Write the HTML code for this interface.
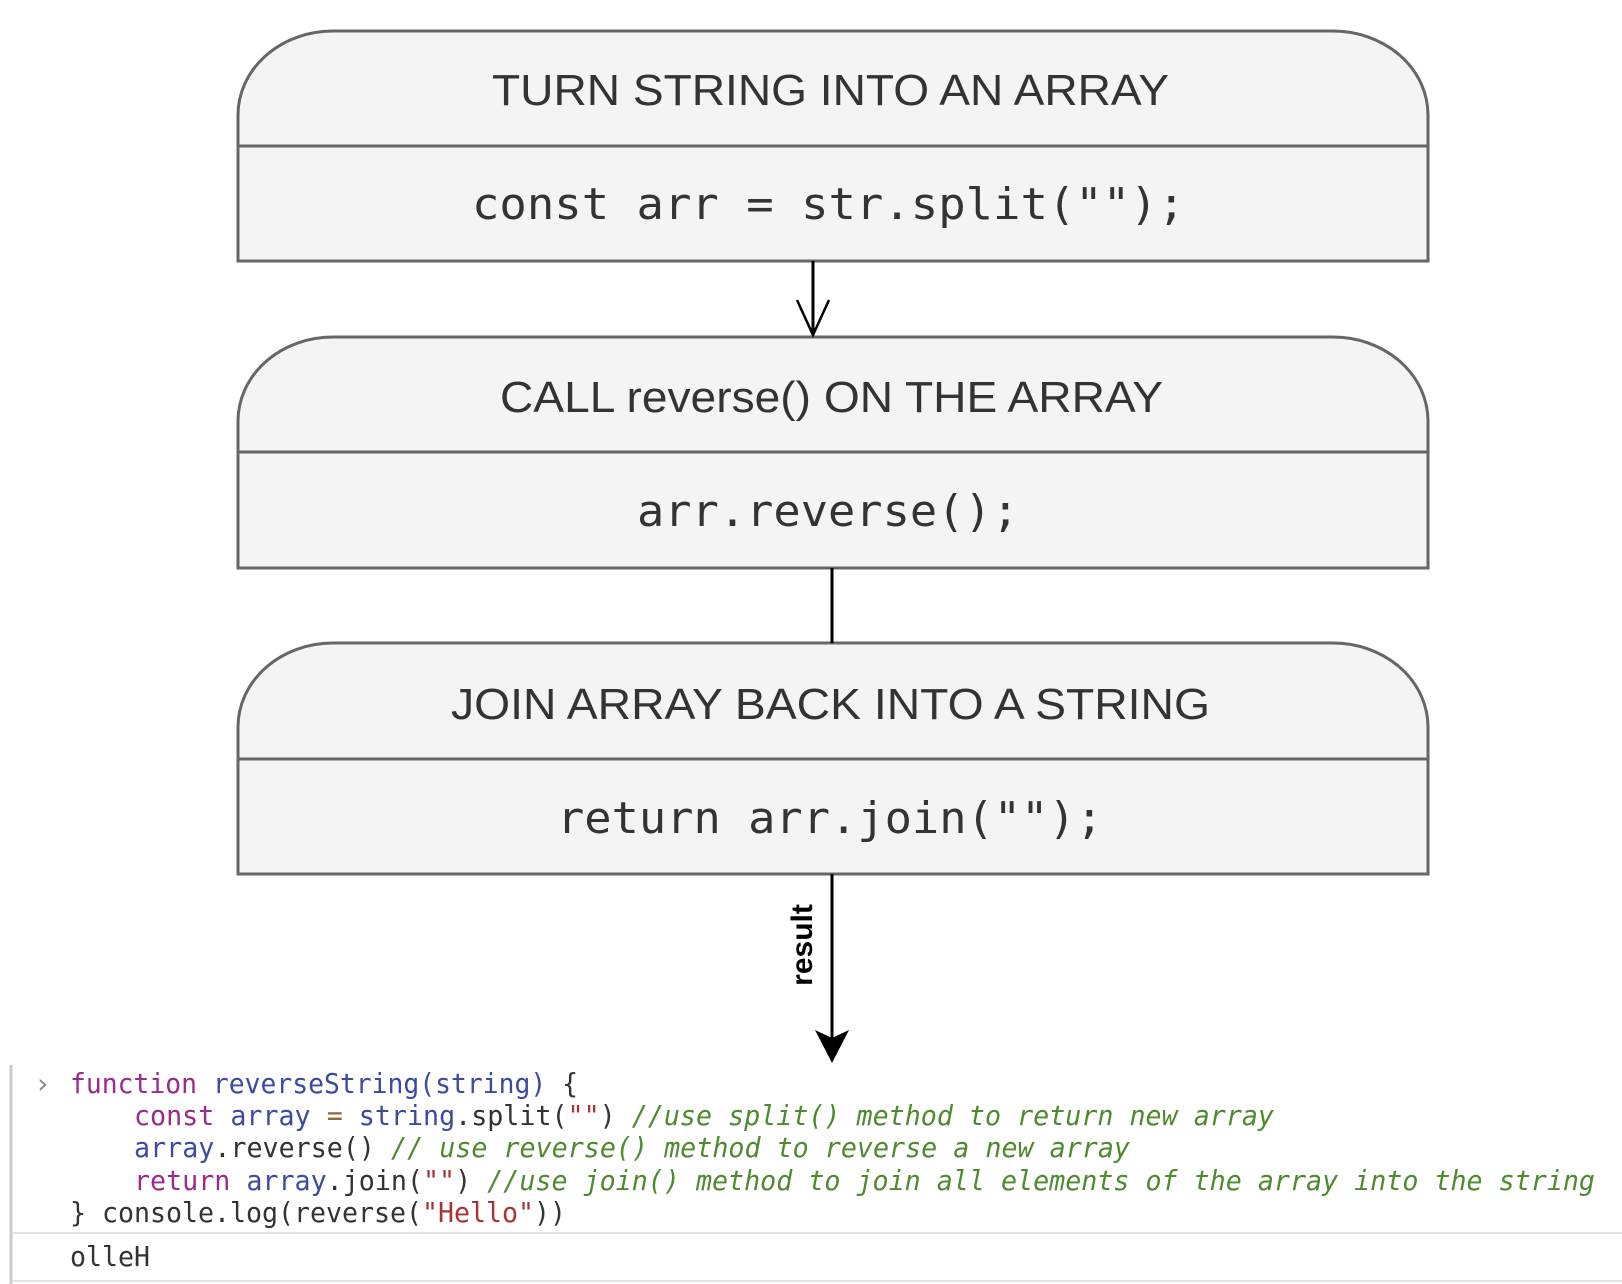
<!DOCTYPE html>
<html><head><meta charset="utf-8"><style>
html,body{margin:0;padding:0;background:#fff;}
svg{display:block;}
.t{font-family:"Liberation Sans",sans-serif;fill:#333;font-size:44px;}
.c{font-family:"DejaVu Sans Mono","Liberation Mono",monospace;fill:#333;font-size:44px;}
.k{font-family:"DejaVu Sans Mono","Liberation Mono",monospace;font-size:28px;}
</style></head><body>
<svg width="1622" height="1284" viewBox="0 0 1622 1284" xmlns="http://www.w3.org/2000/svg">
<g fill="#f4f4f4" stroke="#666" stroke-width="3">
<path d="M238 261 V115 A95 84 0 0 1 333 31 H1333 A95 84 0 0 1 1428 115 V261 Z"/>
<line x1="238" y1="146" x2="1428" y2="146"/>
<path d="M238 568 V421 A95 84 0 0 1 333 337 H1333 A95 84 0 0 1 1428 421 V568 Z"/>
<line x1="238" y1="452" x2="1428" y2="452"/>
<path d="M238 874 V727 A95 84 0 0 1 333 643 H1333 A95 84 0 0 1 1428 727 V874 Z"/>
<line x1="238" y1="759" x2="1428" y2="759"/>
</g>
<text class="t" x="492" y="105" textLength="677" lengthAdjust="spacingAndGlyphs">TURN STRING INTO AN ARRAY</text>
<text class="c" x="472" y="219" textLength="713" lengthAdjust="spacingAndGlyphs">const arr = str.split("");</text>
<text class="t" x="500" y="412" textLength="663" lengthAdjust="spacingAndGlyphs">CALL reverse() ON THE ARRAY</text>
<text class="c" x="637" y="526" textLength="382" lengthAdjust="spacingAndGlyphs">arr.reverse();</text>
<text class="t" x="451" y="719" textLength="759" lengthAdjust="spacingAndGlyphs">JOIN ARRAY BACK INTO A STRING</text>
<text class="c" x="557" y="833" textLength="546" lengthAdjust="spacingAndGlyphs">return arr.join("");</text>
<g stroke="#000" stroke-width="3" fill="none">
<line x1="813" y1="261" x2="813" y2="335"/>
<polyline points="797,300 813,335 829,300" stroke-width="2.5"/>
<line x1="832" y1="568" x2="832" y2="643"/>
<line x1="832" y1="874" x2="832" y2="1040"/>
</g>
<polygon points="815,1030 832,1038 849,1030 832,1063" fill="#000"/>
<text x="0" y="0" transform="translate(812,945) rotate(-90)" text-anchor="middle" font-family="Liberation Sans,sans-serif" font-weight="bold" font-size="30" fill="#000">result</text>
<line x1="11" y1="1065" x2="11" y2="1284" stroke="#ccc" stroke-width="3"/>
<line x1="12" y1="1233" x2="1622" y2="1233" stroke="#e4e4e4" stroke-width="2"/>
<line x1="12" y1="1281" x2="1622" y2="1281" stroke="#e4e4e4" stroke-width="2"/>
<text class="k" x="34" y="1093" fill="#888">›</text>
<text class="k" x="70" y="1093" textLength="508" lengthAdjust="spacingAndGlyphs"><tspan fill="#9b2a8e">function</tspan><tspan fill="#3d4aa0"> reverseString(string)</tspan><tspan fill="#333"> {</tspan></text>
<text class="k" x="134" y="1125" textLength="1140" lengthAdjust="spacingAndGlyphs"><tspan fill="#9b2a8e">const</tspan><tspan fill="#3d4aa0"> array </tspan><tspan fill="#8a6a3a">=</tspan><tspan fill="#3d4aa0"> string</tspan><tspan fill="#333">.split(</tspan><tspan fill="#a33">""</tspan><tspan fill="#333">) </tspan><tspan fill="#4f8a2f" font-style="italic">//use split() method to return new array</tspan></text>
<text class="k" x="134" y="1157" textLength="996" lengthAdjust="spacingAndGlyphs"><tspan fill="#3d4aa0">array</tspan><tspan fill="#333">.reverse() </tspan><tspan fill="#4f8a2f" font-style="italic">// use reverse() method to reverse a new array</tspan></text>
<text class="k" x="134" y="1190" textLength="1461" lengthAdjust="spacingAndGlyphs"><tspan fill="#9b2a8e">return</tspan><tspan fill="#3d4aa0"> array</tspan><tspan fill="#333">.join(</tspan><tspan fill="#a33">""</tspan><tspan fill="#333">) </tspan><tspan fill="#4f8a2f" font-style="italic">//use join() method to join all elements of the array into the string</tspan></text>
<text class="k" x="70" y="1222" textLength="496" lengthAdjust="spacingAndGlyphs" fill="#333">} console.log(reverse(<tspan fill="#a33">"Hello"</tspan>))</text>
<text class="k" x="70" y="1266" fill="#333" textLength="80" lengthAdjust="spacingAndGlyphs">olleH</text>
</svg>
</body></html>
